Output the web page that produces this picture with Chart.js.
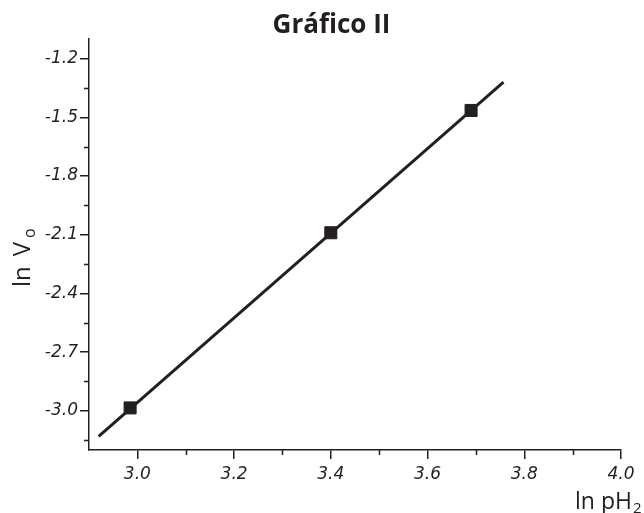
<!DOCTYPE html>
<html lang="pt">
<head>
    <meta charset="UTF-8">
    <title>Gráfico II</title>
    <style>
        body {
            margin: 0;
            padding: 0;
            background: #fff;
        }
        #wrap {
            width: 644px;
            height: 513px;
        }
    </style>
    <script src="https://cdn.jsdelivr.net/npm/chart.js"></script>
</head>
<body>
    <div id="wrap"><canvas id="chart"></canvas></div>
    <script>
        // measured points (ln pH2, ln Vo)
        const pointX = [2.985, 3.40, 3.69];
        const pointY = [-2.985, -2.09, -1.465];
        // ends of the fitted straight line
        const fitX = [2.92, 3.757];
        const fitY = [-3.13, -1.32];

        const xMajor = [3.0, 3.2, 3.4, 3.6, 3.8, 4.0];
        const xMinor = [3.1, 3.3, 3.5, 3.7, 3.9];
        const yMajor = [-3.0, -2.7, -2.4, -2.1, -1.8, -1.5, -1.2];
        const yMinor = [-3.15, -2.85, -2.55, -2.25, -1.95, -1.65, -1.35];

        const ink = '#231f20';

        const minorTicks = {
            id: 'minorTicks',
            afterDraw(chart) {
                const ctx = chart.ctx;
                const area = chart.chartArea;
                const xs = chart.scales.x, ys = chart.scales.y;
                ctx.save();
                ctx.strokeStyle = ink;
                ctx.lineWidth = 1.5;
                ctx.beginPath();
                xMinor.forEach(v => {
                    const px = Math.round(xs.getPixelForValue(v)) + 0.5;
                    ctx.moveTo(px, area.bottom);
                    ctx.lineTo(px, area.bottom + 5);
                });
                yMinor.forEach(v => {
                    const py = Math.round(ys.getPixelForValue(v)) + 0.5;
                    ctx.moveTo(area.left, py);
                    ctx.lineTo(area.left - 5, py);
                });
                ctx.stroke();

                // axis titles with subscripts
                ctx.fillStyle = ink;
                ctx.textBaseline = 'alphabetic';
                ctx.textAlign = 'left';

                // x title: ln pH2
                ctx.font = '23px "Open Sans"';
                const xt = 'ln pH';
                const xw = ctx.measureText(xt).width;
                const xStart = 575;
                ctx.fillText(xt, xStart, 509);
                ctx.font = '15px "Open Sans"';
                ctx.fillText('2', xStart + xw + 1, 513);

                // y title: ln Vo (rotated)
                ctx.translate(30, 287);
                ctx.rotate(-Math.PI / 2);
                ctx.font = '24px "Open Sans"';
                ctx.fillText('ln', 0, 0);
                const lw = ctx.measureText('ln').width;
                ctx.fillText('V', lw + 10, 0);
                const vw = ctx.measureText('V').width;
                ctx.font = '16px "Open Sans"';
                ctx.fillText('o', lw + 10 + vw + 4, 5);
                ctx.restore();
            }
        };

        const tickFont = { family: 'DejaVu Sans', style: 'italic', size: 17 };

        new Chart(document.getElementById('chart'), {
            type: 'scatter',
            data: {
                datasets: [
                    {
                        label: 'pontos',
                        data: pointX.map((x, i) => ({ x: x, y: pointY[i] })),
                        pointStyle: 'rect',
                        pointRadius: 8.5,
                        pointBackgroundColor: ink,
                        pointBorderColor: ink,
                        pointBorderWidth: 1,
                        showLine: false,
                        order: 1
                    },
                    {
                        label: 'reta',
                        data: fitX.map((x, i) => ({ x: x, y: fitY[i] })),
                        showLine: true,
                        borderColor: ink,
                        borderWidth: 3,
                        pointRadius: 0,
                        order: 2
                    }
                ]
            },
            options: {
                responsive: true,
                maintainAspectRatio: false,
                animation: false,
                // left padding only shifts the title box; the y scale keeps the rest
                layout: { padding: { left: 42, right: 23, top: 0, bottom: 0 } },
                plugins: {
                    legend: { display: false },
                    tooltip: { enabled: false },
                    title: {
                        display: true,
                        text: 'Gráfico II',
                        color: ink,
                        font: { family: 'Open Sans', weight: 'bold', size: 26, lineHeight: 1.0 },
                        padding: { top: 13, bottom: 0 }
                    }
                },
                scales: {
                    x: {
                        type: 'linear',
                        min: 2.9,
                        max: 4.0,
                        afterBuildTicks: s => { s.ticks = xMajor.map(v => ({ value: v })); },
                        afterFit: s => { s.height = 63; },
                        border: { color: ink, width: 1.5 },
                        grid: { drawOnChartArea: false, color: ink, lineWidth: 1.5, tickLength: 9 },
                        ticks: {
                            font: tickFont,
                            color: ink,
                            padding: 5,
                            autoSkip: false,
                            maxRotation: 0,
                            callback: v => Number(v).toFixed(1)
                        }
                    },
                    y: {
                        type: 'linear',
                        min: -3.2,
                        max: -1.1,
                        afterBuildTicks: s => { s.ticks = yMajor.map(v => ({ value: v })); },
                        afterFit: s => { s.width = 47; },
                        border: { color: ink, width: 1.5 },
                        grid: { drawOnChartArea: false, color: ink, lineWidth: 1.5, tickLength: 9 },
                        ticks: {
                            font: tickFont,
                            color: ink,
                            padding: 2,
                            autoSkip: false,
                            callback: v => Number(v).toFixed(1)
                        }
                    }
                }
            },
            plugins: [minorTicks]
        });
    </script>
</body>
</html>
